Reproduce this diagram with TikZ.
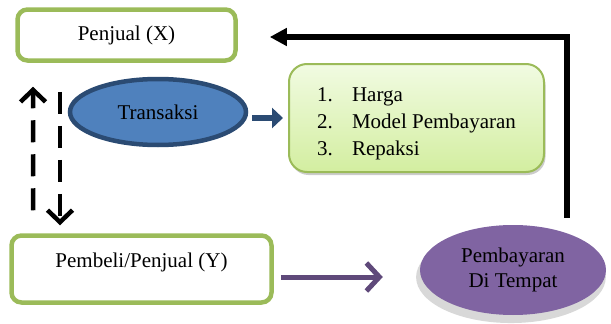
\documentclass[tikz,border=0pt]{standalone}
\usepackage{fontspec}
\setmainfont{Liberation Serif}
\usetikzlibrary{shapes.geometric,arrows.meta,shadows}

\definecolor{hijau}{HTML}{9BBB59}
\definecolor{birutua}{HTML}{2B4B73}
\definecolor{biru}{HTML}{4F81BD}
\definecolor{ungutua}{HTML}{5F497A}
\definecolor{ungu}{HTML}{8064A2}
\definecolor{hijaumuda}{HTML}{F1FBE2}
\definecolor{hijaulist}{HTML}{D3EEA0}

\begin{document}
\begin{tikzpicture}[x=1pt,y=-1pt,
  every node/.style={font=\fontsize{21}{25}\selectfont},
  pelaku/.style={draw=hijau,line width=4.5pt,rounded corners=10pt,fill=white,inner sep=0pt},
  putus/.style={line width=4.5pt,dash pattern=on 22pt off 12pt,-{Straight Barb[length=12pt,width=25pt]}}]
\useasboundingbox (0,0) rectangle (611,324);
\node[pelaku,minimum width=218pt,minimum height=51pt] (penjual) at (126.5,35) {Penjual (X)};
\node[pelaku,minimum width=260pt,minimum height=67pt,text depth=18pt] (pembeli) at (141.5,269) {Pembeli/Penjual (Y)};
\node[ellipse,draw=birutua,line width=4.5pt,fill=biru,minimum width=176pt,minimum height=66pt,inner sep=0pt] (transaksi) at (158,112) {Transaksi};
\node[draw=hijau,line width=2pt,rounded corners=18pt,top color=hijaumuda,bottom color=hijaulist,
  minimum width=255pt,minimum height=108pt,inner sep=0pt,text height=51pt,text depth=30pt,
  drop shadow={shadow xshift=1.5pt,shadow yshift=-3pt,fill=black!40}] (daftar) at (416.5,118)
  {\fontsize{21}{27}\selectfont\begin{tabular}{@{}p{35pt}@{}l@{}}1.&Harga\\2.&Model Pembayaran\\3.&Repaksi\end{tabular}};
\node[ellipse,fill=ungu,minimum width=186pt,minimum height=90pt,inner sep=0pt,align=center,
  drop shadow={shadow xshift=-2pt,shadow yshift=-7pt,shadow scale=1.02,fill=black!30}] (bayar) at (513,270) {Pembayaran\\Di Tempat};

% panah
\draw[birutua,line width=6pt,-{Triangle[length=11pt,width=20pt]}] ([xshift=4pt,yshift=-6pt]transaksi.east) -- ([xshift=-5pt]daftar.west);
\draw[ungutua,line width=5pt,-{Straight Barb[length=13pt,width=28pt]}] ([xshift=7pt,yshift=-8pt]pembeli.east) -- ([xshift=-37pt,yshift=-7pt]bayar.west);
\draw[line width=5.5pt,-{Triangle[length=17pt,width=17pt]}] ([xshift=54pt,yshift=7pt]bayar.north) |- ([xshift=32pt,yshift=-2pt]penjual.east);
\draw[putus] ([xshift=24pt,yshift=23pt]pembeli.north west) -- ([xshift=17.75pt,yshift=-24pt]penjual.south west);
\draw[putus] ([xshift=44.75pt,yshift=-29pt]penjual.south west) -- ([xshift=50.75pt,yshift=8pt]pembeli.north west);
\end{tikzpicture}
\end{document}
